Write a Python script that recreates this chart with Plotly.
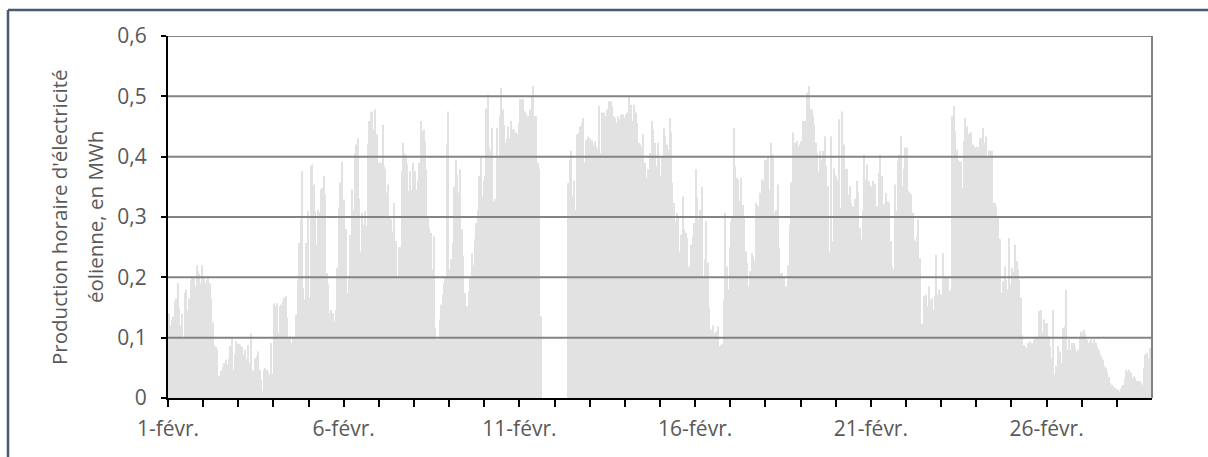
import plotly.graph_objects as go

# Hourly wind production (MWh), February, 24 values per day
week1 = [
    0.14, 0.12, 0.13, 0.135, 0.16, 0.165, 0.19, 0.15, 0.12, 0.14, 0.1, 0.175, 0.18, 0.145, 0.165, 0.195, 0.2, 0.2, 0.185, 0.22, 0.21, 0.205, 0.19, 0.22,
    0.2, 0.19, 0.195, 0.2, 0.19, 0.165, 0.125, 0.088, 0.085, 0.08, 0.036, 0.034, 0.045, 0.052, 0.058, 0.064, 0.055, 0.066, 0.086, 0.1, 0.047, 0.072, 0.094, 0.09,
    0.09, 0.088, 0.085, 0.072, 0.08, 0.064, 0.088, 0.058, 0.107, 0.047, 0.044, 0.066, 0.069, 0.077, 0.047, 0.03, 0.011, 0.047, 0.05, 0.047, 0.044, 0.039, 0.091, 0.04,
    0.157, 0.152, 0.157, 0.108, 0.152, 0.155, 0.16, 0.166, 0.169, 0.133, 0.1, 0.102, 0.091, 0.102, 0.1, 0.138, 0.196, 0.257, 0.296, 0.376, 0.182, 0.163, 0.257, 0.31,
    0.166, 0.384, 0.387, 0.354, 0.31, 0.254, 0.312, 0.307, 0.345, 0.348, 0.368, 0.337, 0.207, 0.188, 0.14, 0.146, 0.141, 0.127, 0.146, 0.216, 0.315, 0.357, 0.392, 0.31,
    0.329, 0.28, 0.174, 0.2, 0.27, 0.345, 0.312, 0.406, 0.42, 0.43, 0.33, 0.243, 0.307, 0.287, 0.31, 0.285, 0.42, 0.459, 0.473, 0.475, 0.445, 0.478, 0.437, 0.39,
    0.39, 0.39, 0.453, 0.384, 0.379, 0.34, 0.354, 0.3, 0.296, 0.276, 0.323, 0.26, 0.2, 0.25, 0.25, 0.376, 0.423, 0.406, 0.403, 0.387, 0.343, 0.376, 0.345, 0.39,
]
week2 = [
    0.376, 0.345, 0.36, 0.39, 0.459, 0.442, 0.445, 0.425, 0.379, 0.3, 0.282, 0.274, 0.213, 0.268, 0.116, 0.097, 0.097, 0.13, 0.155, 0.171, 0.19, 0.2, 0.42, 0.475,
    0.213, 0.23, 0.257, 0.35, 0.395, 0.37, 0.34, 0.379, 0.28, 0.235, 0.174, 0.15, 0.152, 0.177, 0.2, 0.24, 0.221, 0.263, 0.29, 0.312, 0.368, 0.398, 0.334, 0.36,
    0.368, 0.48, 0.503, 0.415, 0.41, 0.448, 0.326, 0.33, 0.448, 0.4, 0.467, 0.514, 0.478, 0.453, 0.423, 0.43, 0.45, 0.43, 0.459, 0.445, 0.445, 0.44, 0.437, 0.456,
    0.495, 0.495, 0.495, 0.475, 0.47, 0.467, 0.467, 0.478, 0.5, 0.517, 0.467, 0.467, 0.39, 0.38, 0.135, 0, 0, 0, 0, 0, 0, 0, 0, 0,
    0, 0, 0, 0, 0, 0, 0, 0, 0, 0.356, 0.395, 0.41, 0.334, 0.36, 0.312, 0.437, 0.44, 0.45, 0.455, 0.464, 0.39, 0.428, 0.433, 0.43,
    0.43, 0.427, 0.42, 0.425, 0.417, 0.413, 0.484, 0.406, 0.473, 0.473, 0.467, 0.478, 0.406, 0.492, 0.492, 0.484, 0.467, 0.464, 0.456, 0.467, 0.462, 0.47, 0.47, 0.465,
    0.47, 0.473, 0.5, 0.462, 0.486, 0.459, 0.486, 0.473, 0.456, 0.423, 0.42, 0.417, 0.437, 0.39, 0.365, 0.379, 0.343, 0.406, 0.459, 0.445, 0.423, 0.384, 0.423, 0.4,
]
week3 = [
    0.367, 0.4, 0.448, 0.434, 0.42, 0.412, 0.464, 0.44, 0.357, 0.323, 0.293, 0.307, 0.3, 0.243, 0.271, 0.334, 0.28, 0.274, 0.265, 0.218, 0.2, 0.254, 0.268, 0.29,
    0.379, 0.332, 0.296, 0.312, 0.35, 0.2, 0.23, 0.293, 0.224, 0.15, 0.113, 0.102, 0.12, 0.107, 0.11, 0.119, 0.086, 0.088, 0.09, 0.163, 0.307, 0.218, 0.18, 0.25,
    0.293, 0.3, 0.448, 0.384, 0.365, 0.362, 0.326, 0.365, 0.32, 0.3, 0.243, 0.224, 0.185, 0.21, 0.24, 0.235, 0.227, 0.323, 0.32, 0.318, 0.34, 0.362, 0.36, 0.395,
    0.395, 0.4, 0.345, 0.423, 0.403, 0.403, 0.307, 0.312, 0.354, 0.249, 0.207, 0.207, 0.2, 0.185, 0.185, 0.22, 0.287, 0.357, 0.44, 0.379, 0.423, 0.426, 0.417, 0.42,
    0.426, 0.459, 0.459, 0.459, 0.506, 0.517, 0.48, 0.478, 0.467, 0.453, 0.423, 0.406, 0.376, 0.41, 0.395, 0.41, 0.434, 0.384, 0.351, 0.243, 0.434, 0.26, 0.381, 0.37,
    0.368, 0.36, 0.462, 0.315, 0.475, 0.42, 0.379, 0.38, 0.337, 0.351, 0.323, 0.318, 0.296, 0.33, 0.36, 0.34, 0.282, 0.263, 0.31, 0.403, 0.362, 0.387, 0.36, 0.351,
    0.351, 0.36, 0.355, 0.285, 0.318, 0.373, 0.403, 0.368, 0.32, 0.323, 0.34, 0.326, 0.323, 0.26, 0.218, 0.213, 0.354, 0.31, 0.392, 0.403, 0.434, 0.351, 0.38, 0.415,
]
week4 = [
    0.415, 0.343, 0.34, 0.337, 0.307, 0.263, 0.26, 0.268, 0.296, 0.232, 0.124, 0.122, 0.169, 0.171, 0.152, 0.185, 0.163, 0.165, 0.146, 0.17, 0.238, 0.171, 0.18, 0.171,
    0.171, 0.24, 0.2, 0.2, 0.2, 0.177, 0.18, 0.467, 0.484, 0.442, 0.412, 0.395, 0.392, 0.392, 0.348, 0.426, 0.464, 0.45, 0.437, 0.44, 0.44, 0.42, 0.417, 0.415,
    0.417, 0.415, 0.431, 0.43, 0.448, 0.423, 0.434, 0.4, 0.41, 0.41, 0.41, 0.323, 0.323, 0.318, 0.3, 0.263, 0.263, 0.174, 0.193, 0.218, 0.196, 0.18, 0.265, 0.188,
    0.216, 0.21, 0.254, 0.227, 0.213, 0.196, 0.166, 0.105, 0.088, 0.085, 0.083, 0.091, 0.094, 0.091, 0.091, 0.097, 0.102, 0.1, 0.144, 0.116, 0.146, 0.11, 0.13, 0.124,
    0.124, 0.102, 0.085, 0.066, 0.146, 0.039, 0.053, 0.086, 0.055, 0.077, 0.058, 0.116, 0.119, 0.18, 0.08, 0.097, 0.08, 0.091, 0.091, 0.085, 0.077, 0.08, 0.1, 0.11,
    0.11, 0.113, 0.107, 0.097, 0.091, 0.094, 0.097, 0.091, 0.097, 0.091, 0.085, 0.08, 0.072, 0.069, 0.064, 0.053, 0.05, 0.044, 0.035, 0.025, 0.022, 0.019, 0.017, 0.015,
    0.014, 0.011, 0.015, 0.019, 0.022, 0.033, 0.047, 0.044, 0.047, 0.042, 0.033, 0.036, 0.033, 0.028, 0.028, 0.028, 0.025, 0.022, 0.05, 0.072, 0.075, 0.066, 0.083, 0.08,
]

day_labels = ["1-févr.", "6-févr.", "11-févr.", "16-févr.", "21-févr.", "26-févr."]
y_ticks = [0, 0.1, 0.2, 0.3, 0.4, 0.5, 0.6]
y_tick_labels = ["0", "0,1", "0,2", "0,3", "0,4", "0,5", "0,6"]
y_title_lines = ["Production horaire d'électricité", "éolienne, en MWh"]

values = week1 + week2 + week3 + week4
n_days = len(values) // 24
hours = [h + 0.5 for h in range(len(values))]

FONT = "'Open Sans', sans-serif"
TXT = "#595959"
W, H = 1208, 457
ML, MR, MT, MB = 168, 56, 36, 59
PW, PH = W - ML - MR, H - MT - MB

fig = go.Figure(go.Bar(x=hours, y=values, marker=dict(color="#e2e2e2", line=dict(width=0)),
                       hoverinfo="skip"))

tickvals = [24 * d for d in range(n_days)]
ticktext = [day_labels[d // 5] if d % 5 == 0 else "" for d in range(n_days)]

fig.update_layout(
    width=W, height=H,
    margin=dict(l=ML, r=MR, t=MT, b=MB),
    paper_bgcolor="white", plot_bgcolor="white",
    bargap=0.3, showlegend=False,
    font=dict(family=FONT, size=21, color=TXT),
    xaxis=dict(range=[0, 24 * n_days], tickvals=tickvals, ticktext=ticktext,
               ticks="outside", ticklen=7, tickwidth=2, tickcolor="black",
               showline=True, linecolor="black", linewidth=2,
               showgrid=False, zeroline=False, ticklabelstandoff=4,
               tickfont=dict(family=FONT, size=21, color=TXT)),
    yaxis=dict(range=[0, 0.6], tickvals=y_ticks, ticktext=y_tick_labels,
               ticks="outside", ticklen=5, tickwidth=2, tickcolor="black",
               showline=True, linecolor="black", linewidth=2,
               showgrid=False, zeroline=False, ticklabelstandoff=10,
               tickfont=dict(family=FONT, size=21, color=TXT)),
)

# paper coordinates of the figure edges and of the outer frame
fx_left = (8 - ML) / PW
fx_right = (W - ML) / PW
fy_top = (H - MB - 10) / PH
fy_bottom = -MB / PH

shapes = []
for v in y_ticks[1:]:
    shapes.append(dict(type="line", xref="paper", yref="y", x0=0, x1=1, y0=v, y1=v,
                       line=dict(color="#838383", width=2), layer="above"))
shapes.append(dict(type="line", xref="paper", yref="paper", x0=1, x1=1, y0=0, y1=1,
                   line=dict(color="#838383", width=2), layer="above"))
shapes.append(dict(type="line", xref="paper", yref="paper", x0=fx_left, x1=fx_right,
                   y0=fy_top, y1=fy_top, line=dict(color="#4a5a72", width=2.5), layer="above"))
shapes.append(dict(type="line", xref="paper", yref="paper", x0=fx_left, x1=fx_left,
                   y0=fy_bottom, y1=fy_top, line=dict(color="#4a5a72", width=2.5), layer="above"))
fig.update_layout(shapes=shapes)

for xpos, line in zip([-0.1108, -0.0742], y_title_lines):
    fig.add_annotation(text=line, xref="paper", yref="paper", x=xpos, y=0.5,
                       textangle=-90, showarrow=False, xanchor="center", yanchor="middle",
                       font=dict(family=FONT, size=20.5, color=TXT))

fig.write_html("out.html", config={"displayModeBar": False},
               post_script="document.body.style.margin='0px';document.body.style.overflow='hidden';")
